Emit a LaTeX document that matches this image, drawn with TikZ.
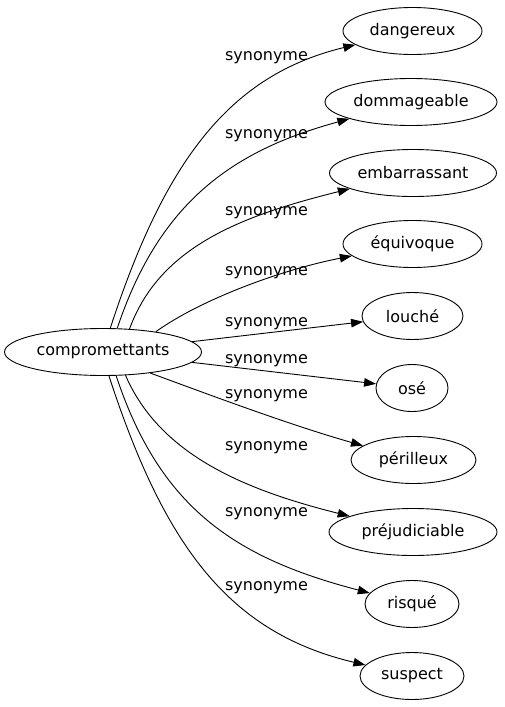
\documentclass[tikz,border=0pt]{standalone}
\usepackage{fontspec}
\setmainfont{DejaVu Sans}
\usetikzlibrary{shapes.geometric,arrows.meta}
\tikzset{
  word/.style={ellipse, draw, line width=0.9pt, minimum height=47pt, inner sep=0pt,
    font=\fontsize{16}{19}\selectfont},
  edge/.style={draw, line width=0.9pt, -{Triangle[length=12pt,width=8.5pt]}},
  lab/.style={anchor=base, inner sep=0pt, font=\fontsize{16}{19}\selectfont}
}
\begin{document}
\begin{tikzpicture}[x=1pt,y=-1pt]
\useasboundingbox (0,0) rectangle (505,707);
\node[word, minimum width=197pt] (comp) at (103,352) {compromettants};
\node[word, minimum width=139pt] (d1) at (412.5,31) {dangereux};
\node[word, minimum width=172pt] (d2) at (411,102) {dommageable};
\node[word, minimum width=167pt] (d3) at (413,173) {embarrassant};
\node[word, minimum width=139pt] (d4) at (412.5,244) {équivoque};
\node[word, minimum width=101pt] (d5) at (412.5,316) {louché};
\node[word, minimum width=72pt] (d6) at (412,388) {osé};
\node[word, minimum width=125pt] (d7) at (413.5,460) {périlleux};
\node[word, minimum width=168pt] (d8) at (413,532) {préjudiciable};
\node[word, minimum width=94pt] (d9) at (412,604) {risqué};
\node[word, minimum width=104pt] (d10) at (412,676) {suspect};

\draw[edge] (comp.73) .. controls (165,160) and (230,75) .. (d1);
\draw[edge] (comp.59) .. controls (160,200) and (235,150) .. (d2);
\draw[edge] (comp.41) .. controls (160,245) and (245,215) .. (d3);
\draw[edge] (comp.21) .. controls (200,300) and (280,270) .. (d4);
\draw[edge] (comp) -- (d5);
\draw[edge] (comp) -- (d6);
\draw[edge] (comp.-24) .. controls (210,395) and (290,425) .. (d7);
\draw[edge] (comp.-46) .. controls (160,455) and (245,490) .. (d8);
\draw[edge] (comp.-61) .. controls (160,508) and (235,558) .. (d9);
\draw[edge] (comp.-76) .. controls (165,548) and (230,633) .. (d10);

\node[lab] (l1) at (266.5,60) {synonyme};
\node[lab] (l2) at (266.5,138) {synonyme};
\node[lab] (l3) at (266.5,215) {synonyme};
\node[lab] (l4) at (266.5,275) {synonyme};
\node[lab] (l5) at (266.5,326) {synonyme};
\node[lab] (l6) at (266.5,363) {synonyme};
\node[lab] (l7) at (266.5,398) {synonyme};
\node[lab] (l8) at (266.5,450) {synonyme};
\node[lab] (l9) at (266.5,516) {synonyme};
\node[lab] (l10) at (266.5,590) {synonyme};
\end{tikzpicture}
\end{document}
